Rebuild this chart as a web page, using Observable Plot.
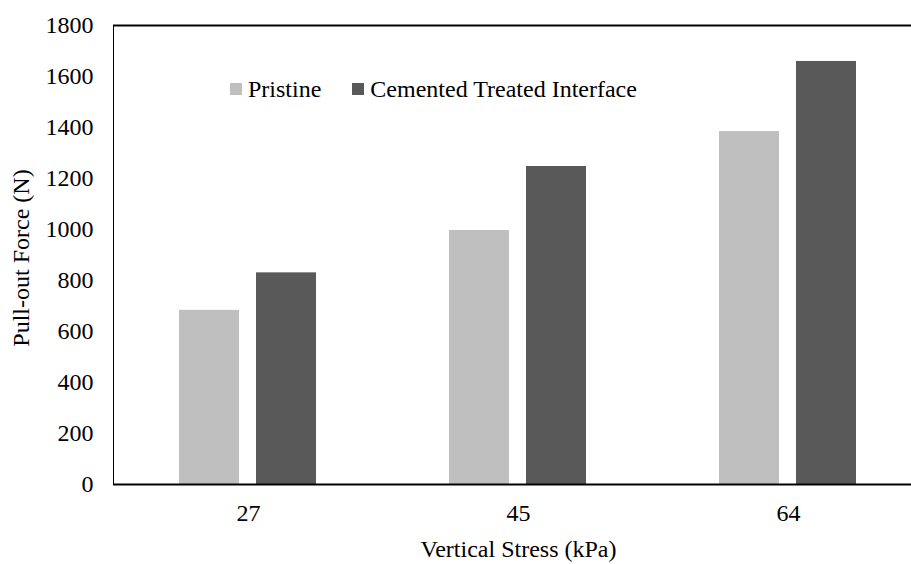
<!DOCTYPE html>
<html>
<head>
<meta charset="utf-8">
<script src="https://cdn.jsdelivr.net/npm/d3@7"></script>
<script src="https://cdn.jsdelivr.net/npm/@observablehq/plot@0.6"></script>
<style>
  html, body { margin: 0; padding: 0; background: white; overflow: hidden; }
  #wrap { position: relative; width: 911px; height: 564px; font-family: 'Liberation Serif', 'Times New Roman', serif; }
  #legend { position: absolute; top: 75px; left: 230px; font-size: 24px; line-height: 28px; display: flex; align-items: center; color: #000; }
  #legend .item { display: flex; align-items: center; margin-right: 31px; }
  #legend .sw { width: 12px; height: 12px; margin-right: 6px; }
  #ylabel { position: absolute; left: 21px; top: 258px; transform: translate(-50%, -50%) rotate(-90deg); font-size: 24px; white-space: nowrap; color: #000; }
</style>
</head>
<body>
<div id="wrap"></div>
<script>
const stress = ["27", "45", "64"];
const series = ["Pristine", "Cemented Treated Interface"];
const pristine = [683, 996, 1384];
const cemented = [830, 1247, 1659];
const colors = ["#bfbfbf", "#595959"];
const yTicks = [0, 200, 400, 600, 800, 1000, 1200, 1400, 1600, 1800];
const xTitle = "Vertical Stress (kPa)";
const yTitle = "Pull-out Force (N)";

const data = stress.flatMap((s, i) => [
  {stress: s, series: series[0], value: pristine[i]},
  {stress: s, series: series[1], value: cemented[i]}
]);

const chart = Plot.plot({
  width: 911,
  height: 564,
  marginLeft: 113,
  marginRight: -12,
  marginTop: 25,
  marginBottom: 80,
  style: {fontFamily: "'Liberation Serif', 'Times New Roman', serif", fontSize: "24px", color: "black", background: "white"},
  fx: {domain: stress, padding: 0, axis: "bottom", tickSize: 0, tickPadding: 19, label: xTitle, labelAnchor: "center", labelOffset: 72},
  x: {domain: series, axis: null, paddingInner: 0.22, paddingOuter: 0.863},
  y: {domain: [0, 1800], ticks: yTicks, tickSize: 0, tickPadding: 20, tickFormat: d => String(d), label: null, line: true},
  color: {domain: series, range: colors},
  marks: [
    Plot.barY(data, {fx: "stress", x: "series", y: "value", fill: "series"}),
    Plot.ruleY([0, 1800], {stroke: "black", strokeWidth: 2})
  ]
});
chart.style.overflow = "hidden";
// thicken the y axis line
chart.querySelectorAll('[aria-label^="y-axis"]').forEach(g => {
  g.querySelectorAll("path, line").forEach(p => p.setAttribute("stroke-width", 2));
  if (g.getAttribute("aria-label") !== "y-axis tick label") g.setAttribute("stroke-width", 2);
});
document.getElementById("wrap").appendChild(chart);

const yl = document.createElement("div");
yl.id = "ylabel";
yl.textContent = yTitle;
document.getElementById("wrap").appendChild(yl);

const legend = document.createElement("div");
legend.id = "legend";
series.forEach((s, i) => {
  const item = document.createElement("div");
  item.className = "item";
  const sw = document.createElement("span");
  sw.className = "sw";
  sw.style.background = colors[i];
  const t = document.createElement("span");
  t.textContent = s;
  item.appendChild(sw);
  item.appendChild(t);
  legend.appendChild(item);
});
document.getElementById("wrap").appendChild(legend);
</script>
</body>
</html>
